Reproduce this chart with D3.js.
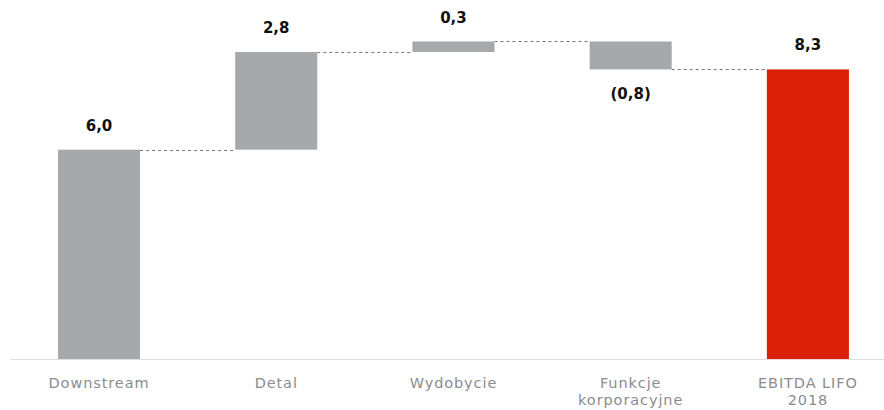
<!DOCTYPE html>
<html>
<head>
<meta charset="utf-8">
<script src="https://cdn.jsdelivr.net/npm/d3@7"></script>
<style>
  html, body { margin: 0; padding: 0; background: #fff; }
  svg { display: block; }
</style>
</head>
<body>
<svg id="chart" width="884" height="410"></svg>
<script>
// EBITDA LIFO 2018 bridge (mld PLN)
const categories = ["Downstream", "Detal", "Wydobycie", "Funkcje korporacyjne", "EBITDA LIFO 2018"];
const categoryLines = [["Downstream"], ["Detal"], ["Wydobycie"], ["Funkcje", "korporacyjne"], ["EBITDA LIFO", "2018"]];
const values = [6.0, 2.8, 0.3, -0.8, 8.3];
const isTotal = [false, false, false, false, true];
const valueLabels = ["6,0", "2,8", "0,3", "(0,8)", "8,3"];

const W = 884, H = 410;
const baseY = 359;

// running totals -> start/end of each step
let run = 0;
const steps = categories.map((c, i) => {
  let start, end;
  if (isTotal[i]) { start = 0; end = values[i]; run = values[i]; }
  else { start = run; end = run + values[i]; run = end; }
  return { cat: c, lines: categoryLines[i], value: values[i], label: valueLabels[i], start, end, total: isTotal[i] };
});

const x = d3.scaleBand()
  .domain(categories)
  .range([10.4, 896.5])
  .paddingInner(0.537)
  .paddingOuter(0.2685);

const y = d3.scaleLinear().domain([0, 9.1]).range([baseY, 41.5]);

const svg = d3.select("#chart");

// baseline
svg.append("line")
  .attr("x1", 10).attr("x2", W)
  .attr("y1", baseY + 0.5).attr("y2", baseY + 0.5)
  .attr("stroke", "#dedede").attr("stroke-width", 1);

// connectors between consecutive steps
svg.append("g").selectAll("line")
  .data(steps.slice(0, -1))
  .join("line")
  .attr("x1", (d) => x(d.cat) + x.bandwidth())
  .attr("x2", (d, i) => x(steps[i + 1].cat))
  .attr("y1", (d) => Math.round(y(d.end)) + 0.5)
  .attr("y2", (d) => Math.round(y(d.end)) + 0.5)
  .attr("stroke", "#666")
  .attr("stroke-width", 0.9)
  .attr("stroke-dasharray", "3,3");

// bars
svg.append("g").selectAll("rect")
  .data(steps)
  .join("rect")
  .attr("x", (d) => x(d.cat))
  .attr("width", x.bandwidth())
  .attr("y", (d) => y(Math.max(d.start, d.end)))
  .attr("height", (d) => Math.abs(y(d.start) - y(d.end)))
  .attr("fill", (d) => d.total ? "#d91f05" : "#a7a8ab");

// value labels
svg.append("g").selectAll("text")
  .data(steps)
  .join("text")
  .attr("x", (d) => x(d.cat) + x.bandwidth() / 2)
  .attr("y", (d) => d.value >= 0 ? y(Math.max(d.start, d.end)) - 19 : y(Math.min(d.start, d.end)) + 30)
  .attr("text-anchor", "middle")
  .attr("font-family", "'DejaVu Sans', sans-serif")
  .attr("font-weight", 700)
  .attr("font-size", 15)
  .attr("fill", "#111")
  .text((d) => d.label);

// category labels, one text element per line
const catLines = steps.flatMap((d) =>
  d.lines.map((t, i) => ({ cat: d.cat, text: t, row: i })));

svg.append("g").selectAll("text")
  .data(catLines)
  .join("text")
  .attr("x", (d) => x(d.cat) + x.bandwidth() / 2)
  .attr("y", (d) => 388 + d.row * 17)
  .attr("text-anchor", "middle")
  .attr("font-family", "'DejaVu Sans', sans-serif")
  .attr("font-size", 14.5)
  .attr("letter-spacing", 0.9)
  .attr("fill", "#8c8c8f")
  .text((d) => d.text);
</script>
</body>
</html>
